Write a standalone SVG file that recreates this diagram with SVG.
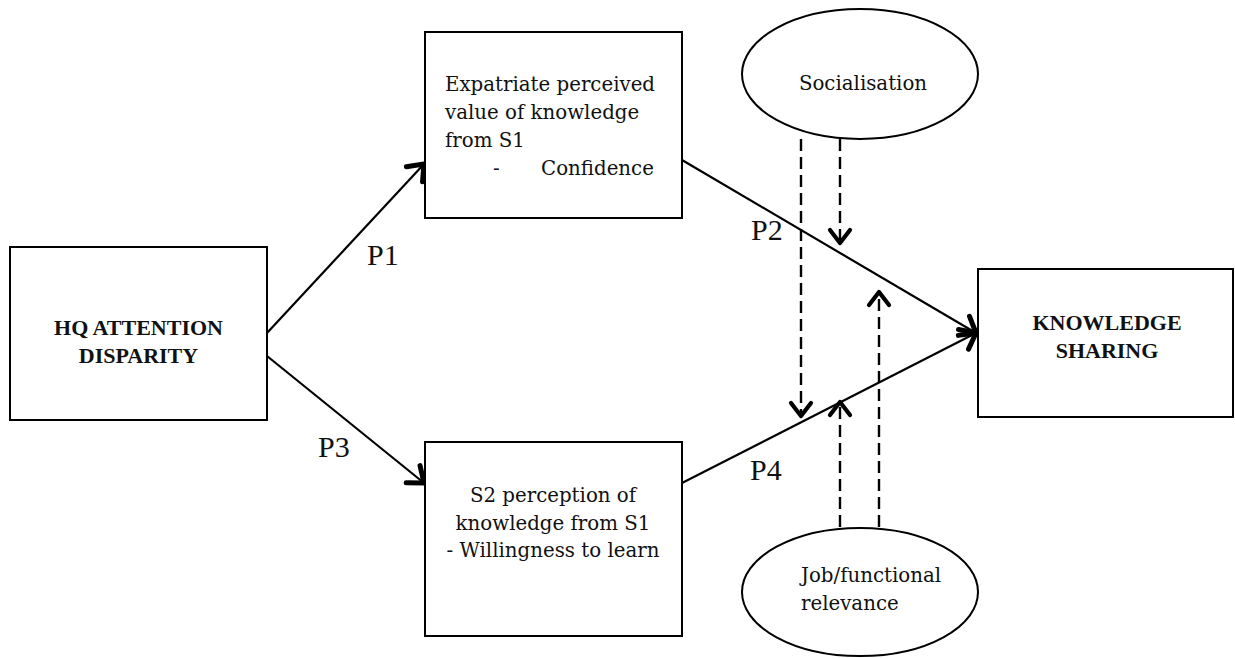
<svg xmlns="http://www.w3.org/2000/svg" width="1235" height="659" viewBox="0 0 1235 659">
<style>
.box{fill:#fff;stroke:#000;stroke-width:2}
.ell{fill:#fff;stroke:#000;stroke-width:2}
.t{font-family:"DejaVu Serif","Liberation Serif",serif;font-size:19.8px;fill:#111}
.b{font-family:"Liberation Serif",serif;font-weight:bold;font-size:22px;fill:#111}
.p{font-family:"Liberation Serif",serif;font-size:30px;fill:#111}
.solid{stroke:#000;stroke-width:2.2;fill:none;marker-end:url(#ah)}
.dash{stroke:#000;stroke-width:2.4;fill:none;stroke-dasharray:12 6;marker-end:url(#ahd)}
</style>
<defs>
<marker id="ah" markerUnits="userSpaceOnUse" viewBox="-20 -15 30 30" markerWidth="30" markerHeight="30" refX="0" refY="0" orient="auto">
<path d="M-14,-11 L0,0 L-14,11" fill="none" stroke="#000" stroke-width="5" stroke-linecap="round" stroke-linejoin="round"/>
</marker>
<marker id="ahd" markerUnits="userSpaceOnUse" viewBox="-20 -15 30 30" markerWidth="30" markerHeight="30" refX="0" refY="0" orient="auto">
<path d="M-13,-10 L0,0 L-13,10" fill="none" stroke="#000" stroke-width="4.2" stroke-linecap="round" stroke-linejoin="round"/>
</marker>
</defs>
<rect width="1235" height="659" fill="#fff"/>
<g id="connectors">
<line class="solid" x1="267" y1="333" x2="424" y2="164"/>
<line class="solid" x1="267" y1="356" x2="424" y2="483"/>
<line class="solid" x1="682" y1="160" x2="976" y2="333"/>
<line class="solid" x1="682" y1="483" x2="976" y2="333"/>
<line class="dash" x1="801" y1="139" x2="801" y2="416"/>
<line class="dash" x1="840" y1="139" x2="840" y2="243"/>
<line class="dash" x1="840" y1="527" x2="840" y2="402"/>
<line class="dash" x1="879" y1="527" x2="879" y2="292"/>
<text class="p" x="367" y="265">P1</text>
<text class="p" x="751" y="240">P2</text>
<text class="p" x="318" y="457">P3</text>
<text class="p" x="750" y="480">P4</text>
</g>
<g id="hq">
<rect class="box" x="10" y="247" width="257" height="173"/>
<text class="b" x="138.5" y="335" text-anchor="middle">HQ ATTENTION</text>
<text class="b" x="138.5" y="363" text-anchor="middle">DISPARITY</text>
</g>
<g id="expatriate">
<rect class="box" x="425" y="32" width="257" height="186"/>
<text class="t" x="445" y="91">Expatriate perceived</text>
<text class="t" x="445" y="119">value of knowledge</text>
<text class="t" x="445" y="147">from S1</text>
<text class="t" x="493" y="175">-</text>
<text class="t" x="541" y="175">Confidence</text>
</g>
<g id="s2">
<rect class="box" x="425" y="442" width="257" height="194"/>
<text class="t" x="553" y="502" text-anchor="middle">S2 perception of</text>
<text class="t" x="553" y="530" text-anchor="middle">knowledge from S1</text>
<text class="t" x="553" y="557" text-anchor="middle">- Willingness to learn</text>
</g>
<g id="ks">
<rect class="box" x="978" y="269" width="255" height="148"/>
<text class="b" x="1107" y="330" text-anchor="middle">KNOWLEDGE</text>
<text class="b" x="1107" y="358" text-anchor="middle">SHARING</text>
</g>
<g id="socialisation">
<ellipse class="ell" cx="860" cy="74" rx="118" ry="65"/>
<text class="t" x="863" y="90" text-anchor="middle">Socialisation</text>
</g>
<g id="job">
<ellipse class="ell" cx="860" cy="592" rx="118" ry="64"/>
<text class="t" x="801" y="582">Job/functional</text>
<text class="t" x="801" y="610">relevance</text>
</g>
</svg>
